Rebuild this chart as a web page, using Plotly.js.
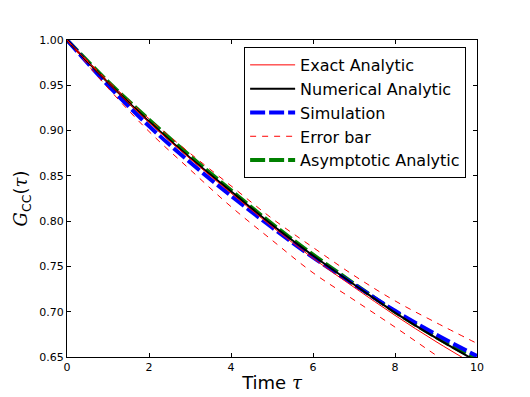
<!DOCTYPE html>
<html>
<head>
<meta charset="utf-8">
<script src="https://cdn.plot.ly/plotly-3.0.1.min.js"></script>
<style>html,body{margin:0;padding:0;background:#fff;}#chart{width:530px;height:397px;}</style>
</head>
<body>
<div id="chart"></div>
<script>
// Time values
var tau = [0, 1, 2, 3, 4, 5, 6, 7, 8, 9, 10];
// Series values
var exactAnalytic     = [1.000, 0.953, 0.909, 0.869, 0.831, 0.794, 0.759, 0.727, 0.696, 0.667, 0.640];
var numericalAnalytic = [1.000, 0.953, 0.910, 0.870, 0.833, 0.796, 0.762, 0.730, 0.699, 0.671, 0.645];
var simulation        = [1.000, 0.950, 0.905, 0.865, 0.828, 0.793, 0.760, 0.730, 0.701, 0.675, 0.651];
var errorUpper        = [1.000, 0.955, 0.913, 0.875, 0.839, 0.803, 0.771, 0.740, 0.712, 0.688, 0.665];
var errorLower        = [1.000, 0.947, 0.899, 0.857, 0.816, 0.779, 0.743, 0.713, 0.683, 0.652, 0.622];
var asymptotic        = [1.000, 0.954, 0.912, 0.872, 0.834, 0.797, 0.763, 0.731, 0.700, 0.672, 0.647];
// Tick labels
var xTicks = [0, 2, 4, 6, 8, 10];
var yTicks = [0.65, 0.70, 0.75, 0.80, 0.85, 0.90, 0.95, 1.00];

var traces = [
  {x: tau, y: asymptotic, name: 'Asymptotic Analytic', legendrank: 5, mode: 'lines',
   line: {color: '#008000', width: 4, dash: '15px,4px', shape: 'spline'}},
  {x: tau, y: simulation, name: 'Simulation', legendrank: 3, mode: 'lines',
   line: {color: '#0000ff', width: 4, dash: '15px,4px', shape: 'spline'}},
  {x: tau, y: numericalAnalytic, name: 'Numerical Analytic', legendrank: 2, mode: 'lines',
   line: {color: '#000000', width: 2, shape: 'spline'}},
  {x: tau, y: exactAnalytic, name: 'Exact Analytic', legendrank: 1, mode: 'lines',
   line: {color: '#ff0000', width: 1, shape: 'spline'}},
  {x: tau, y: errorUpper, name: 'Error bar', legendrank: 4, mode: 'lines',
   line: {color: '#ff0000', width: 1, dash: '6px,6px', shape: 'spline'}},
  {x: tau, y: errorLower, name: 'Error bar', showlegend: false, mode: 'lines',
   line: {color: '#ff0000', width: 1, dash: '6px,6px', shape: 'spline'}}
];

var layout = {
  width: 530, height: 397,
  margin: {l: 67, r: 53, t: 40, b: 40},
  paper_bgcolor: '#ffffff', plot_bgcolor: '#ffffff',
  font: {family: 'DejaVu Sans', size: 11, color: '#000'},
  showlegend: true,
  legend: {x: 0.432, y: 0.978, xanchor: 'left', yanchor: 'top',
           bordercolor: '#000', borderwidth: 1, bgcolor: '#fff', itemwidth: 45,
           font: {family: 'DejaVu Sans', size: 16, color: '#000'}},
  xaxis: {range: [0, 10], tickvals: xTicks, ticktext: xTicks.map(String),
          ticks: 'inside', ticklen: 4, tickwidth: 1, tickcolor: '#000',
          showline: true, linecolor: '#000', linewidth: 1, mirror: 'ticks',
          showgrid: false, zeroline: false,
          title: {text: 'Time <span style="font-family:DejaVu Serif"><i>τ</i></span>',
                  font: {family: 'DejaVu Sans', size: 18}, standoff: 3}},
  yaxis: {range: [0.65, 1.00], tickvals: yTicks, ticktext: yTicks.map(function(v){return v.toFixed(2);}),
          ticks: 'inside', ticklen: 4, tickwidth: 1, tickcolor: '#000',
          showline: true, linecolor: '#000', linewidth: 1, mirror: 'ticks',
          showgrid: false, zeroline: false,
          title: {text: '<span style="font-family:DejaVu Serif"><i>G</i></span><sub>CC</sub>(<span style="font-family:DejaVu Serif"><i>τ</i></span>)',
                  font: {family: 'DejaVu Sans', size: 18}, standoff: 6}}
};

Plotly.newPlot('chart', traces, layout, {displayModeBar: false, staticPlot: true});
</script>
</body>
</html>
